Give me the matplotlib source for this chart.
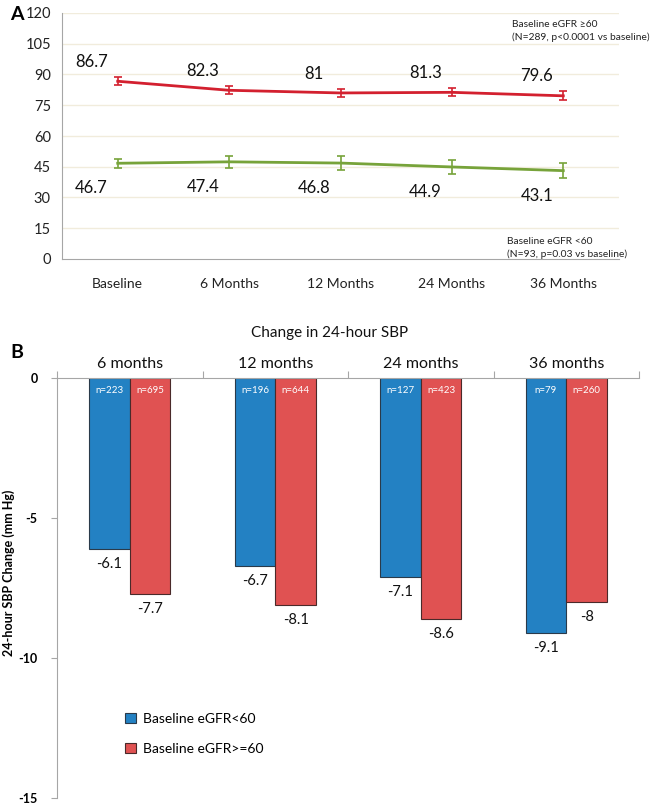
import matplotlib
matplotlib.use("Agg")
import matplotlib.pyplot as plt
import numpy as np

plt.rcParams['font.family'] = ['Lato', 'DejaVu Sans']

# ---- Panel A data ----
timepoints = ["Baseline", "6 Months", "12 Months", "24 Months", "36 Months"]
egfr_high = [86.7, 82.3, 81.0, 81.3, 79.6]
egfr_high_err = [2.0, 2.0, 2.0, 2.0, 2.2]
egfr_low = [46.7, 47.4, 46.8, 44.9, 43.1]
egfr_low_err = [2.2, 3.0, 3.5, 3.5, 3.8]
high_labels = ["86.7", "82.3", "81", "81.3", "79.6"]
low_labels = ["46.7", "47.4", "46.8", "44.9", "43.1"]
yticks_a = [0, 15, 30, 45, 60, 75, 90, 105, 120]

# ---- Panel B data ----
periods = ["6 months", "12 months", "24 months", "36 months"]
sbp_low = [-6.1, -6.7, -7.1, -9.1]
sbp_high = [-7.7, -8.1, -8.6, -8.0]
n_low = ["n=223", "n=196", "n=127", "n=79"]
n_high = ["n=695", "n=644", "n=423", "n=260"]
sbp_low_lbl = ["-6.1", "-6.7", "-7.1", "-9.1"]
sbp_high_lbl = ["-7.7", "-8.1", "-8.6", "-8"]
yticks_b = [0, -5, -10, -15]

W, H = 655, 805
fig = plt.figure(figsize=(W/100, H/100), dpi=100)

def fx(px): return px / W
def fy(py): return 1 - py / H

RED = "#d3202f"
GREEN = "#77a33a"
AXC = "#a6a6a6"
GRID = "#f1ecdc"

# ---------------- Panel A ----------------
axA = fig.add_axes([fx(62), fy(259), fx(619) - fx(62), fy(13) - fy(259)])
x = np.arange(len(timepoints))
axA.set_xlim(-0.5, len(timepoints) - 0.5)
axA.set_ylim(0, 120)
axA.set_yticks(yticks_a)
axA.set_yticklabels([str(v) for v in yticks_a], fontsize=10.5, color="#222222")
for v in yticks_a[1:]:
    axA.axhline(v, color=GRID, lw=1, zorder=0)
axA.errorbar(x, egfr_high, yerr=egfr_high_err, color=RED, lw=2, capsize=3, elinewidth=1.2, capthick=1.2, zorder=3)
axA.errorbar(x, egfr_low, yerr=egfr_low_err, color=GREEN, lw=2, capsize=3, elinewidth=1.2, capthick=1.2, zorder=3)
axA.set_xticks(x)
axA.set_xticklabels(timepoints, fontsize=10, color="#222222")
axA.tick_params(axis='both', length=0, pad=8)
axA.tick_params(axis='x', pad=14)
for s in ["top", "right"]:
    axA.spines[s].set_visible(False)
for s in ["left", "bottom"]:
    axA.spines[s].set_color(AXC)
for i in range(len(x)):
    axA.annotate(high_labels[i], (x[i], egfr_high[i]), xytext=(-19, 14), textcoords="offset points",
                 ha="center", va="center", fontsize=12, color="#111111")
    axA.annotate(low_labels[i], (x[i], egfr_low[i]), xytext=(-19, -18), textcoords="offset points",
                 ha="center", va="center", fontsize=12, color="#111111")
fig.text(fx(512), fy(31), "Baseline eGFR \u226560\n(N=289, p<0.0001 vs baseline)", fontsize=7.4,
         ha="left", va="center", linespacing=1.4, color="#222222")
fig.text(fx(507), fy(248), "Baseline eGFR <60\n(N=93, p=0.03 vs baseline)", fontsize=7.4,
         ha="left", va="center", linespacing=1.4, color="#222222")
fig.text(fx(10), fy(14), "A", fontsize=14, fontweight="bold", ha="left", va="center")

# ---------------- Panel B ----------------
axB = fig.add_axes([fx(57), fy(798), fx(639) - fx(57), fy(378) - fy(798)])
nb = len(periods)
xb = np.arange(nb)
bw = 0.28
axB.set_xlim(-0.5, nb - 0.5)
axB.set_ylim(-15, 0)
BLUE = "#2381c3"
RB = "#e05252"
axB.bar(xb - bw/2, sbp_low, width=bw, color=BLUE, edgecolor="#2a3a4a", lw=0.8, zorder=2, label="Baseline eGFR<60")
axB.bar(xb + bw/2, sbp_high, width=bw, color=RB, edgecolor="#4a2a2a", lw=0.8, zorder=2, label="Baseline eGFR>=60")
for i in range(nb):
    axB.text(xb[i] - bw/2, -0.45, n_low[i], color="white", fontsize=7, ha="center", va="center", zorder=3)
    axB.text(xb[i] + bw/2, -0.45, n_high[i], color="white", fontsize=7, ha="center", va="center", zorder=3)
    axB.annotate(sbp_low_lbl[i], (xb[i] - bw/2, sbp_low[i]), xytext=(0, -11), textcoords="offset points",
                 ha="center", va="center", fontsize=10.5, color="#111111")
    axB.annotate(sbp_high_lbl[i], (xb[i] + bw/2, sbp_high[i]), xytext=(0, -11), textcoords="offset points",
                 ha="center", va="center", fontsize=10.5, color="#111111")
axB.set_yticks(yticks_b)
axB.set_yticklabels([str(v) for v in yticks_b], fontsize=9, fontweight="bold")
axB.tick_params(axis='y', length=4, color=AXC, pad=10)
axB.spines["bottom"].set_visible(False)
axB.spines["right"].set_visible(False)
axB.spines["top"].set_color(AXC)
axB.spines["left"].set_color(AXC)
axB.xaxis.set_ticks_position("top")
axB.set_xticks(np.arange(nb + 1) - 0.5)
axB.set_xticklabels([])
axB.tick_params(axis='x', direction="out", length=5, color=AXC)
for i in range(nb):
    axB.text(xb[i], 0.25, periods[i], ha="center", va="bottom", fontsize=11.5, color="#111111",
             transform=axB.transData, clip_on=False)
axB.set_ylabel("24-hour SBP Change (mm Hg)", fontsize=9, fontweight="bold")
axB.yaxis.set_label_coords(-0.072, 0.535)
fig.text(fx(330), fy(333), "Change in 24-hour SBP", ha="center", va="center", fontsize=11, color="#111111")
fig.text(fx(10), fy(352), "B", fontsize=14, fontweight="bold", ha="left", va="center")
leg = axB.legend(loc="upper left", bbox_to_anchor=(fx(112 - 57) / (fx(639) - fx(57)), 1 - (700 - 378) / 420),
                 frameon=False, fontsize=10, handlelength=0.8, handleheight=0.8, labelspacing=1.3,
                 handletextpad=0.5)

fig.savefig("out.png", dpi=100)
